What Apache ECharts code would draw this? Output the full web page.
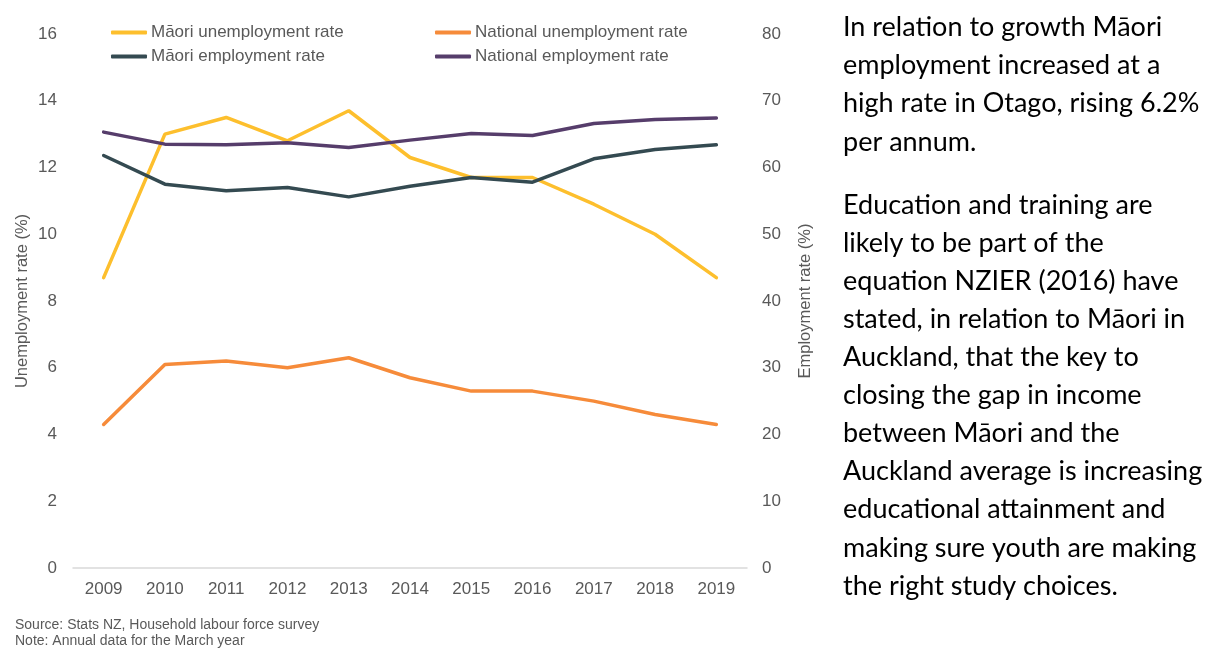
<!DOCTYPE html>
<html>
<head>
<meta charset="utf-8">
<script src="https://cdn.jsdelivr.net/npm/echarts@6/dist/echarts.min.js"></script>
<style>
  html, body { margin: 0; padding: 0; background: #fff; }
  #chart { width: 1209px; height: 648px; }
</style>
</head>
<body>
<div id="chart"></div>
<script>
// Annual figures, March year
const years = ['2009','2010','2011','2012','2013','2014','2015','2016','2017','2018','2019'];
const maoriUnemployment    = [8.7, 13.0, 13.5, 12.8, 13.7, 12.3, 11.7, 11.7, 10.9, 10.0, 8.7];
const nationalUnemployment = [4.3, 6.1, 6.2, 6.0, 6.3, 5.7, 5.3, 5.3, 5.0, 4.6, 4.3];
const maoriEmployment      = [61.8, 57.5, 56.5, 57.0, 55.6, 57.2, 58.5, 57.8, 61.3, 62.7, 63.4];
const nationalEmployment   = [65.3, 63.5, 63.4, 63.7, 63.0, 64.1, 65.1, 64.8, 66.6, 67.2, 67.4];

const seriesNames = ['Māori unemployment rate', 'National unemployment rate',
                     'Māori employment rate', 'National employment rate'];

const sourceNote = ['Source: Stats NZ, Household labour force survey',
                    'Note: Annual data for the March year'];

const commentary = [
  'In relation to growth Māori',
  'employment increased at a',
  'high rate in Otago, rising 6.2%',
  'per annum.',
  '',
  'Education and training are',
  'likely to be part of the',
  'equation NZIER (2016) have',
  'stated, in relation to Māori in',
  'Auckland, that the key to',
  'closing the gap in income',
  'between Māori and the',
  'Auckland average is increasing',
  'educational attainment and',
  'making sure youth are making',
  'the right study choices.'
];

const colors = {
  maoriUnemp: '#FDBF2D',
  natUnemp: '#F68B3A',
  maoriEmp: '#344A51',
  natEmp: '#563D6B'
};

const FONT = 'Liberation Sans, Arial, sans-serif';
const axisText = { color: '#595959', fontFamily: FONT, fontSize: 17 };

// Commentary text, one element per line
const textGraphics = [];
let y = 14;
commentary.forEach(line => {
  if (line === '') { y += 25; return; }
  textGraphics.push({
    type: 'text', left: 843, top: y,
    style: { text: line, fill: '#000', font: '27px Lato, "Open Sans", sans-serif' }
  });
  y += 38.1;
});
sourceNote.forEach((line, i) => {
  textGraphics.push({
    type: 'text', left: 15, top: 618 + i * 16,
    style: { text: line, fill: '#595959', font: '14px "Liberation Sans", Arial, sans-serif' }
  });
});

const legendBase = {
  orient: 'vertical',
  top: 19,
  itemWidth: 36,
  itemHeight: 4,
  itemGap: 7,
  icon: 'roundRect',
  textStyle: { color: '#595959', fontFamily: FONT, fontSize: 17, padding: [0, 0, 0, -1] }
};

const chart = echarts.init(document.getElementById('chart'), null, { renderer: 'canvas' });
chart.setOption({
  animation: false,
  color: [colors.maoriUnemp, colors.natUnemp, colors.maoriEmp, colors.natEmp],
  grid: { left: 73, right: 462, top: 34, bottom: 80 },
  legend: [
    Object.assign({ left: 106, data: [seriesNames[0], seriesNames[2]] }, legendBase),
    Object.assign({ left: 430, data: [seriesNames[1], seriesNames[3]] }, legendBase)
  ],
  xAxis: {
    type: 'category',
    data: years,
    boundaryGap: true,
    axisLine: { lineStyle: { color: '#d9d9d9', width: 1.5 } },
    axisTick: { show: false },
    axisLabel: Object.assign({ margin: 13 }, axisText)
  },
  yAxis: [
    {
      type: 'value', min: 0, max: 16, interval: 2,
      name: 'Unemployment rate (%)',
      nameLocation: 'middle', nameGap: 42, nameRotate: 90,
      nameMoveOverlap: false,
      nameTextStyle: { color: '#595959', fontFamily: FONT, fontSize: 16.5 },
      axisLine: { show: false }, axisTick: { show: false },
      splitLine: { show: false },
      axisLabel: Object.assign({ margin: 16 }, axisText)
    },
    {
      type: 'value', min: 0, max: 80, interval: 10,
      name: 'Employment rate (%)',
      nameLocation: 'middle', nameGap: 50, nameRotate: 90,
      nameTextStyle: { color: '#595959', fontFamily: FONT, fontSize: 16.5 },
      axisLine: { show: false }, axisTick: { show: false },
      splitLine: { show: false },
      axisLabel: Object.assign({ margin: 15 }, axisText)
    }
  ],
  series: [
    { name: seriesNames[0], type: 'line', yAxisIndex: 0, data: maoriUnemployment,
      symbol: 'none', lineStyle: { width: 3.5, color: colors.maoriUnemp, cap: 'round' } },
    { name: seriesNames[1], type: 'line', yAxisIndex: 0, data: nationalUnemployment,
      symbol: 'none', lineStyle: { width: 3.5, color: colors.natUnemp, cap: 'round' } },
    { name: seriesNames[2], type: 'line', yAxisIndex: 1, data: maoriEmployment,
      symbol: 'none', lineStyle: { width: 3.5, color: colors.maoriEmp, cap: 'round' } },
    { name: seriesNames[3], type: 'line', yAxisIndex: 1, data: nationalEmployment,
      symbol: 'none', lineStyle: { width: 3.5, color: colors.natEmp, cap: 'round' } }
  ],
  graphic: textGraphics
});
</script>
</body>
</html>
